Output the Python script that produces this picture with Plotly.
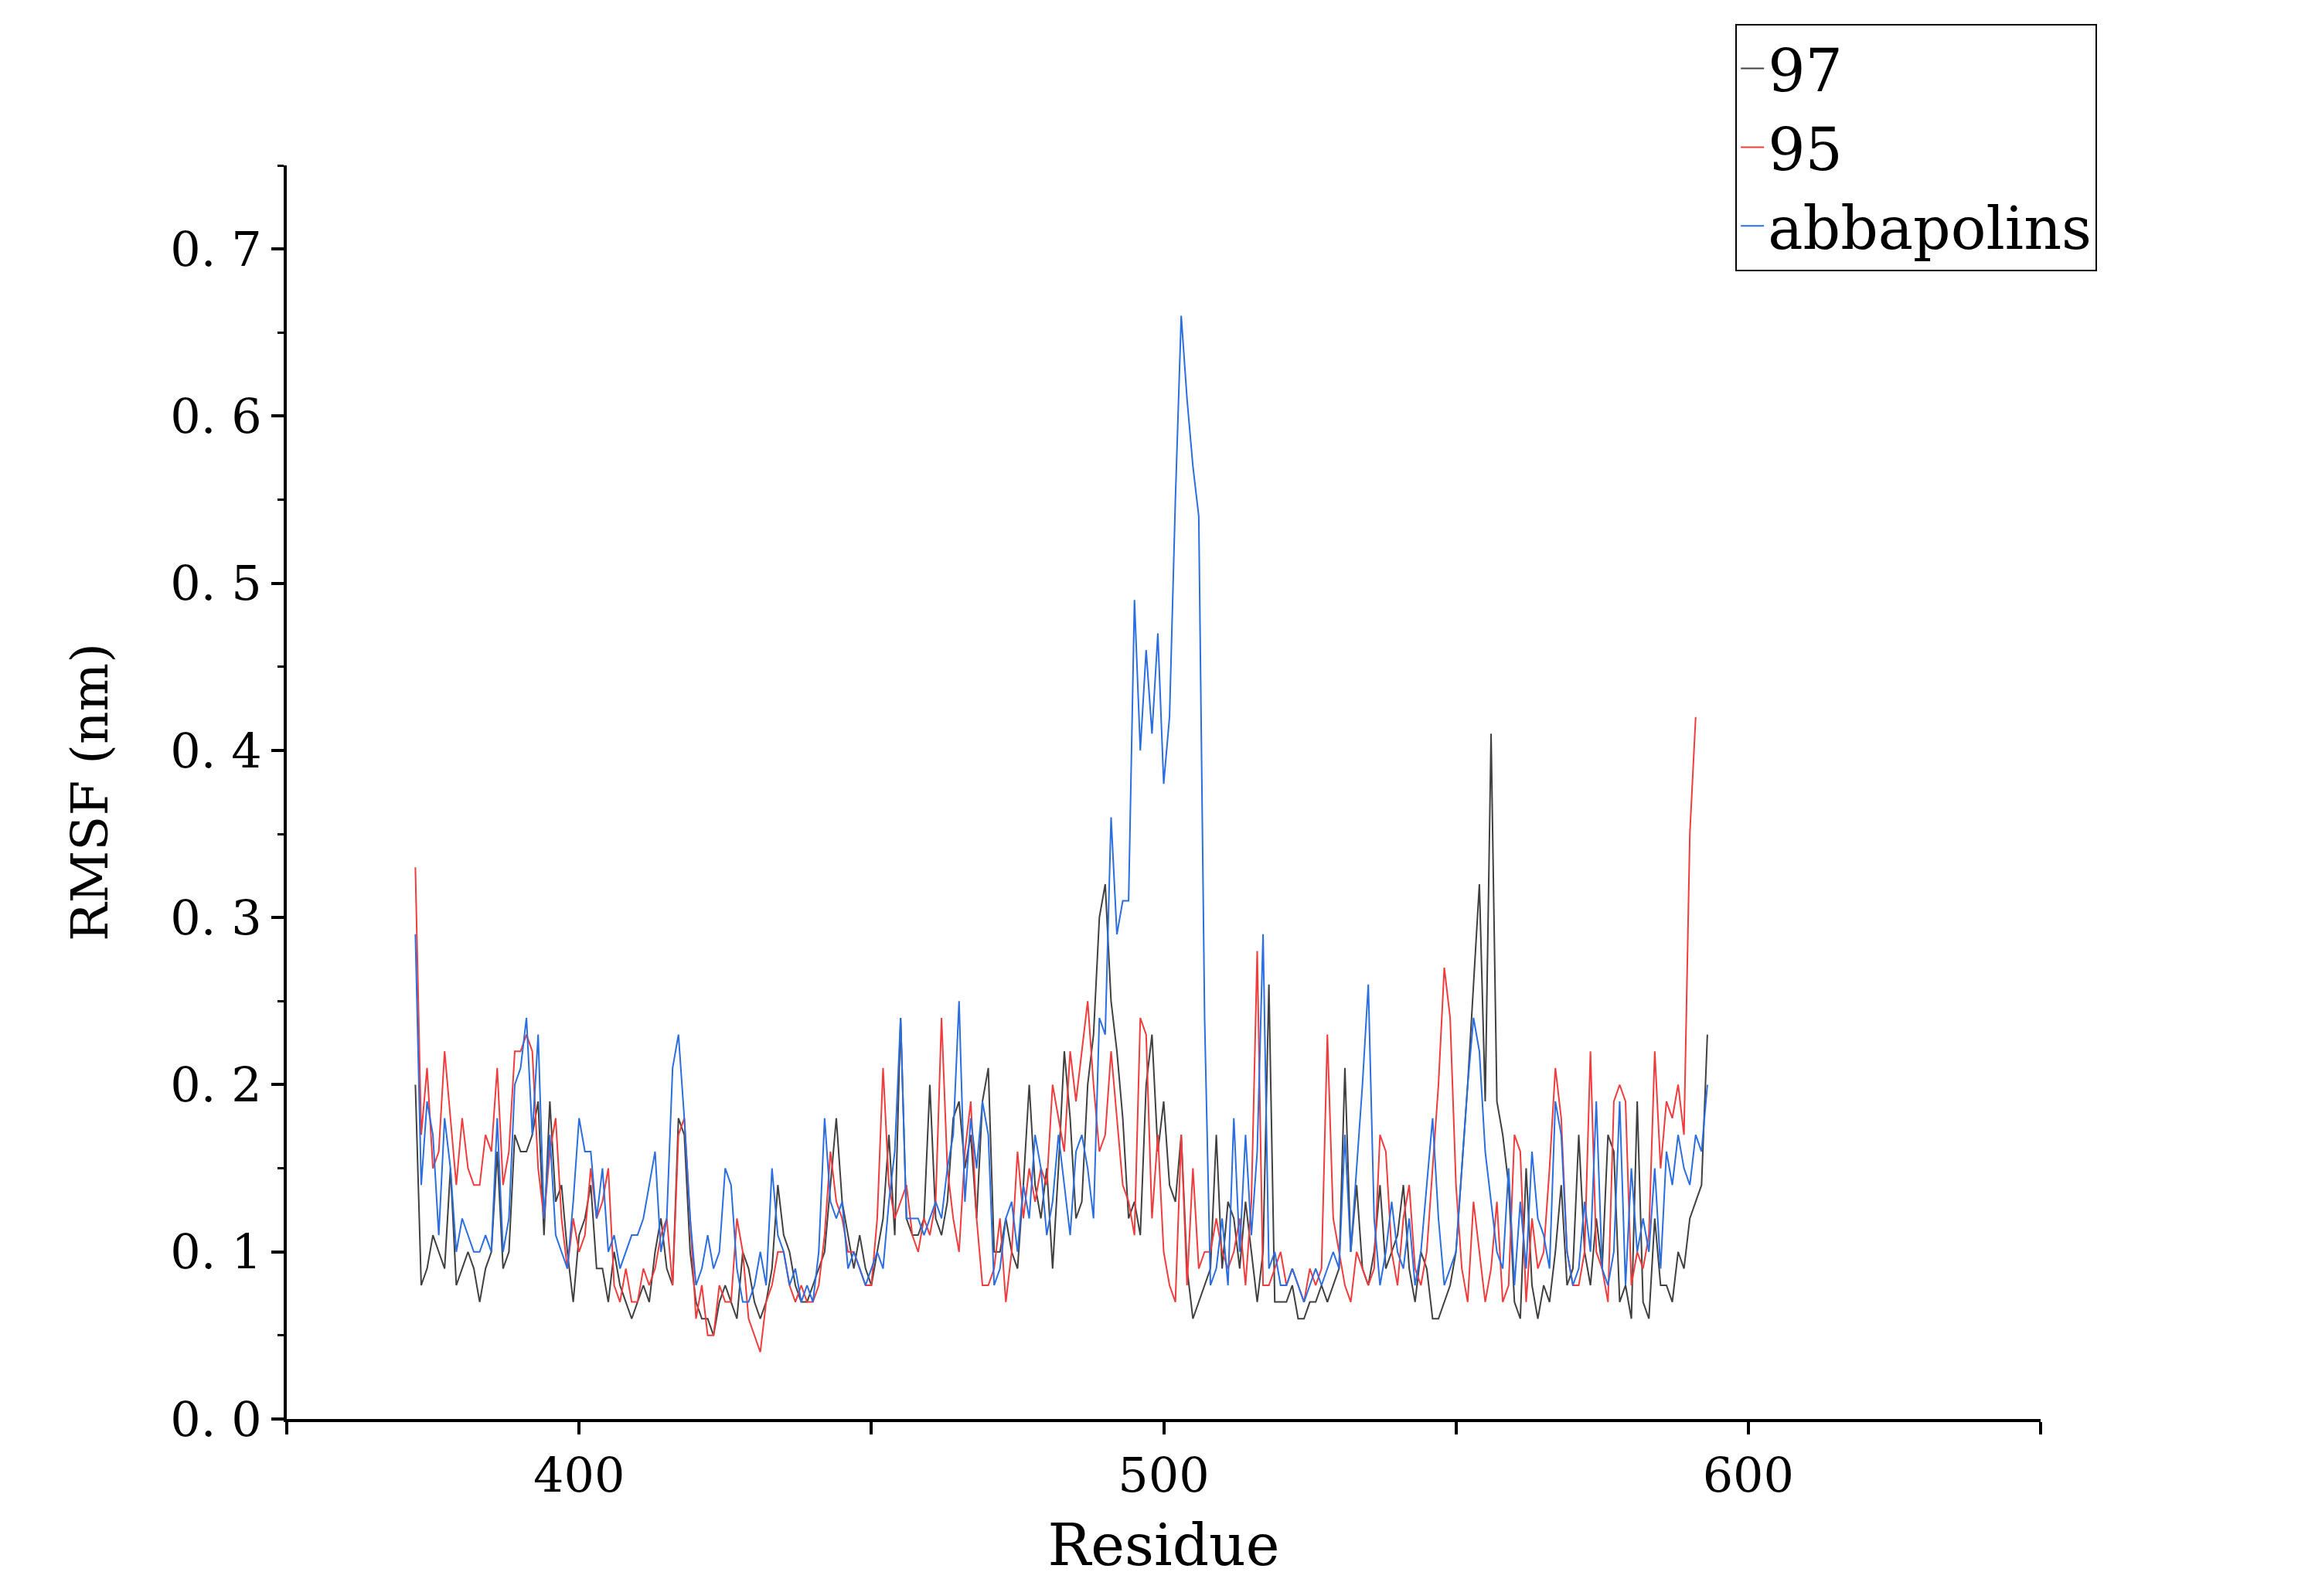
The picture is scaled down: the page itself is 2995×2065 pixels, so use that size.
import plotly.graph_objects as go

start_residue = 372
rmsf_97 = [0.20,0.08,0.09,0.11,0.10,0.09,0.15,0.08,
 0.09,0.10,0.09,0.07,0.09,0.10,0.16,0.09,0.10,0.17,
 0.16,0.16,0.17,0.19,0.11,0.19,0.13,0.14,0.10,0.07,
 0.11,0.12,0.14,0.09,0.09,0.07,0.10,0.08,0.07,0.06,
 0.07,0.08,0.07,0.10,0.12,0.09,0.08,0.18,0.17,0.10,
 0.07,0.06,0.06,0.05,0.07,0.08,0.07,0.06,0.10,0.09,
 0.07,0.06,0.07,0.09,0.14,0.11,0.10,0.08,0.07,0.07,
 0.08,0.09,0.10,0.14,0.18,0.13,0.11,0.09,0.11,0.09,
 0.08,0.10,0.12,0.17,0.11,0.24,0.12,0.11,0.11,0.12,
 0.20,0.12,0.11,0.13,0.18,0.19,0.15,0.17,0.12,0.19,
 0.21,0.10,0.10,0.12,0.10,0.09,0.14,0.20,0.14,0.12,
 0.15,0.09,0.15,0.22,0.18,0.12,0.13,0.20,0.23,0.30,
 0.32,0.25,0.22,0.18,0.12,0.13,0.11,0.20,0.23,0.16,
 0.19,0.14,0.13,0.17,0.09,0.06,0.07,0.08,0.09,0.17,
 0.09,0.13,0.12,0.09,0.13,0.10,0.07,0.10,0.26,0.07,
 0.07,0.07,0.08,0.06,0.06,0.07,0.07,0.08,0.07,0.08,
 0.09,0.21,0.10,0.14,0.09,0.08,0.10,0.14,0.09,0.10,
 0.11,0.14,0.09,0.07,0.10,0.09,0.06,0.06,0.07,0.08,
 0.10,0.15,0.20,0.26,0.32,0.19,0.41,0.19,0.17,0.14,
 0.07,0.06,0.15,0.08,0.06,0.08,0.07,0.10,0.14,0.08,
 0.09,0.17,0.10,0.08,0.12,0.09,0.17,0.16,0.07,0.08,
 0.06,0.19,0.07,0.06,0.12,0.08,0.08,0.07,0.10,0.09,
 0.12,0.13,0.14,0.23]
rmsf_95 = [0.33,0.17,0.21,0.15,0.16,0.22,0.18,0.14,
 0.18,0.15,0.14,0.14,0.17,0.16,0.21,0.14,0.16,0.22,
 0.22,0.23,0.22,0.15,0.12,0.16,0.18,0.12,0.09,0.12,
 0.10,0.11,0.15,0.12,0.13,0.15,0.08,0.07,0.09,0.07,
 0.07,0.09,0.08,0.09,0.11,0.12,0.08,0.17,0.18,0.12,
 0.06,0.08,0.05,0.05,0.08,0.07,0.07,0.12,0.10,0.06,
 0.05,0.04,0.07,0.08,0.10,0.10,0.08,0.07,0.08,0.07,
 0.07,0.08,0.11,0.16,0.13,0.12,0.10,0.10,0.09,0.08,
 0.08,0.12,0.21,0.14,0.12,0.13,0.14,0.11,0.10,0.12,
 0.11,0.13,0.24,0.15,0.12,0.10,0.16,0.19,0.12,0.08,
 0.08,0.09,0.12,0.07,0.10,0.16,0.12,0.15,0.13,0.15,
 0.14,0.20,0.18,0.16,0.22,0.19,0.22,0.25,0.20,0.16,
 0.17,0.22,0.18,0.14,0.13,0.11,0.24,0.23,0.12,0.17,
 0.10,0.08,0.07,0.17,0.08,0.15,0.09,0.10,0.10,0.12,
 0.10,0.09,0.10,0.12,0.08,0.13,0.28,0.08,0.08,0.09,
 0.10,0.08,0.09,0.08,0.07,0.09,0.08,0.09,0.23,0.12,
 0.10,0.08,0.07,0.10,0.09,0.08,0.09,0.17,0.16,0.10,
 0.08,0.12,0.14,0.09,0.08,0.10,0.15,0.20,0.27,0.24,
 0.14,0.09,0.07,0.13,0.10,0.07,0.09,0.13,0.07,0.08,
 0.17,0.16,0.07,0.12,0.09,0.10,0.15,0.21,0.18,0.10,
 0.08,0.08,0.10,0.22,0.10,0.09,0.07,0.19,0.20,0.19,
 0.08,0.10,0.09,0.11,0.22,0.15,0.19,0.18,0.20,0.17,
 0.35,0.42]
rmsf_abbapolins = [0.29,0.14,0.19,0.17,0.11,0.18,0.15,0.10,
 0.12,0.11,0.10,0.10,0.11,0.10,0.18,0.10,0.12,0.20,
 0.21,0.24,0.17,0.23,0.12,0.17,0.11,0.10,0.09,0.13,
 0.18,0.16,0.16,0.12,0.15,0.10,0.11,0.09,0.10,0.11,
 0.11,0.12,0.14,0.16,0.10,0.12,0.21,0.23,0.18,0.12,
 0.08,0.09,0.11,0.09,0.10,0.15,0.14,0.09,0.07,0.07,
 0.08,0.10,0.08,0.15,0.11,0.10,0.08,0.09,0.07,0.08,
 0.07,0.10,0.18,0.13,0.12,0.13,0.09,0.10,0.09,0.08,
 0.09,0.10,0.09,0.13,0.16,0.24,0.12,0.12,0.12,0.11,
 0.12,0.13,0.12,0.15,0.17,0.25,0.13,0.18,0.15,0.19,
 0.17,0.08,0.09,0.12,0.13,0.10,0.14,0.12,0.17,0.15,
 0.11,0.13,0.17,0.14,0.11,0.16,0.17,0.15,0.12,0.24,
 0.23,0.36,0.29,0.31,0.31,0.49,0.40,0.46,0.41,0.47,
 0.38,0.42,0.55,0.66,0.61,0.57,0.54,0.24,0.08,0.09,
 0.12,0.08,0.18,0.10,0.17,0.11,0.16,0.29,0.09,0.10,
 0.08,0.08,0.09,0.08,0.07,0.08,0.09,0.08,0.09,0.10,
 0.09,0.17,0.10,0.15,0.20,0.26,0.12,0.08,0.10,0.13,
 0.10,0.09,0.12,0.08,0.10,0.14,0.18,0.12,0.08,0.09,
 0.10,0.15,0.20,0.24,0.22,0.16,0.13,0.10,0.09,0.15,
 0.08,0.13,0.09,0.16,0.12,0.11,0.09,0.19,0.17,0.10,
 0.08,0.09,0.13,0.10,0.19,0.09,0.08,0.10,0.19,0.08,
 0.15,0.10,0.12,0.10,0.15,0.09,0.16,0.14,0.17,0.15,
 0.14,0.17,0.16,0.20]

series = [("97", rmsf_97, "#404040"), ("95", rmsf_95, "#f03c3c"), ("abbapolins", rmsf_abbapolins, "#2a6ee0")]
x_tickvals = [350, 400, 450, 500, 550, 600, 650]
x_ticktext = ["", "400", "", "500", "", "600", ""]
y_tickvals = [0.0, 0.1, 0.2, 0.3, 0.4, 0.5, 0.6, 0.7]
y_ticktext = ["0. 0", "0. 1", "0. 2", "0. 3", "0. 4", "0. 5", "0. 6", "0. 7"]

font = "DejaVu Serif"
fig = go.Figure()
for name, vals, col in series:
    fig.add_trace(go.Scatter(x=list(range(start_residue, start_residue + len(vals))), y=vals,
                             mode="lines", name=name, line=dict(color=col, width=2)))

axis_common = dict(showline=True, linecolor="black", linewidth=4, ticks="outside",
                   tickwidth=4, ticklen=16, tickcolor="black", showgrid=False, zeroline=False,
                   tickfont=dict(family=font, size=62, color="black"))
fig.update_xaxes(range=[350, 650], tickvals=x_tickvals, ticktext=x_ticktext,
                 title=dict(text="Residue", font=dict(family=font, size=74, color="black"), standoff=30),
                 **axis_common)
fig.update_yaxes(range=[0, 0.75], tickvals=y_tickvals, ticktext=y_ticktext,
                 title=dict(text="RMSF (nm)", font=dict(family=font, size=66, color="black"), standoff=60),
                 minor=dict(ticks="outside", ticklen=8, tickwidth=3, tickcolor="black", dtick=0.05), **axis_common)
fig.update_layout(width=2995, height=2065, plot_bgcolor="white", paper_bgcolor="white",
                  margin=dict(l=363, r=363, t=206, b=237),
                  legend=dict(x=0.826, y=1.113, xanchor="left", yanchor="top",
                              bordercolor="black", borderwidth=2, bgcolor="white",
                              font=dict(family=font, size=76, color="black")))
fig.write_html("out.html")
